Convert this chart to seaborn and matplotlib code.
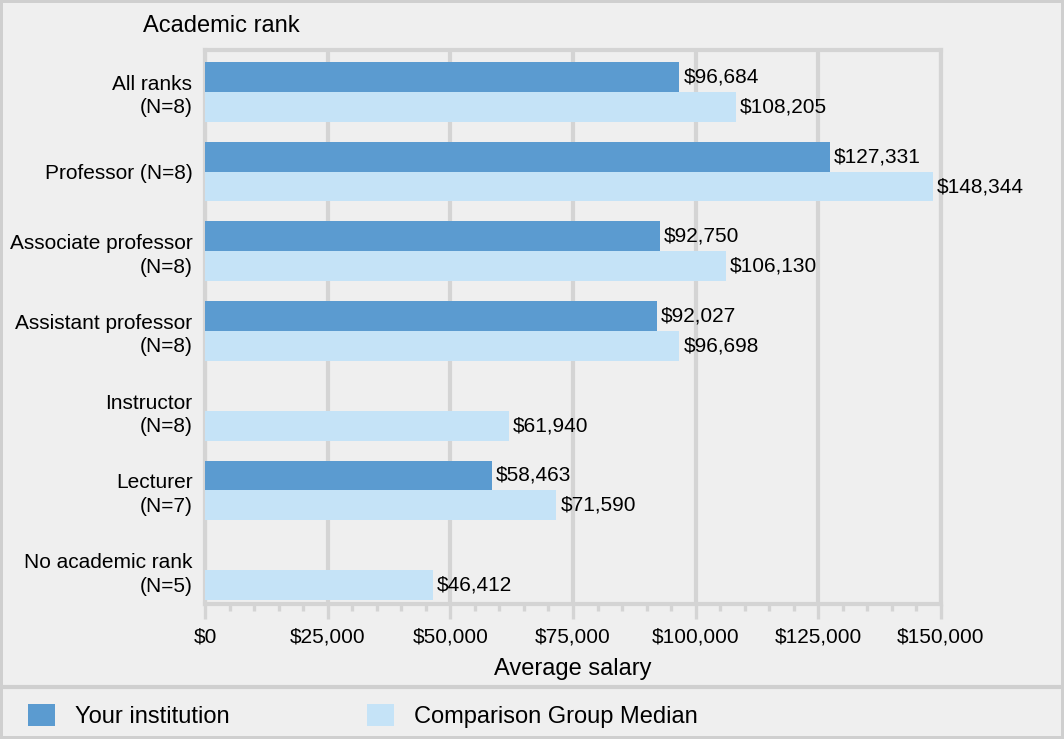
import numpy as np
import pandas as pd
import matplotlib.pyplot as plt
import seaborn as sns
from matplotlib.ticker import MultipleLocator, FuncFormatter
from matplotlib.patches import Patch
from matplotlib.lines import Line2D

ranks = ["All ranks\n(N=8)", "Professor (N=8)", "Associate professor\n(N=8)",
         "Assistant professor\n(N=8)", "Instructor\n(N=8)", "Lecturer\n(N=7)",
         "No academic rank\n(N=5)"]
your_inst = [96684, 127331, 92750, 92027, np.nan, 58463, np.nan]
comparison = [108205, 148344, 106130, 96698, 61940, 71590, 46412]
groups = ["Your institution", "Comparison Group Median"]
colors = ["#5b9bd0", "#c5e3f7"]

df = pd.DataFrame({
    "rank": ranks * 2,
    "salary": your_inst + comparison,
    "group": [groups[0]] * len(ranks) + [groups[1]] * len(ranks),
})

bg = "#efefef"
grid = "#d4d4d4"
sns.set_style("white")
plt.rcParams["font.family"] = ["Liberation Sans", "DejaVu Sans"]
plt.rcParams["text.color"] = "black"

fig = plt.figure(figsize=(10.64, 7.39), dpi=100, facecolor=bg)
fig.patch.set_edgecolor("#cfcfcf")
fig.patch.set_linewidth(3)
ax = fig.add_axes([205 / 1064, 1 - 604 / 739, 736 / 1064, 554 / 739])
ax.set_facecolor(bg)

sns.barplot(data=df, y="rank", x="salary", hue="group", order=ranks,
            hue_order=groups, palette=colors, orient="h", width=0.75,
            saturation=1, dodge=True, legend=False, linewidth=0,
            ax=ax, zorder=3)

for cont in ax.containers:
    labels = ["" if np.isnan(v) else f"${v:,.0f}" for v in cont.datavalues]
    ax.bar_label(cont, labels=labels, padding=3, fontsize=15, color="black")

ax.set_xlim(0, 150000)
ax.set_ylim(6.425, -0.525)
ax.xaxis.set_major_locator(MultipleLocator(25000))
ax.xaxis.set_minor_locator(MultipleLocator(5000))
ax.xaxis.set_major_formatter(FuncFormatter(lambda v, p: f"${v:,.0f}"))
ax.grid(axis="x", color=grid, linewidth=3, zorder=0)
ax.set_axisbelow(True)
for s in ax.spines.values():
    s.set_color(grid)
    s.set_linewidth(3)
ax.tick_params(axis="x", which="both", bottom=True)
ax.tick_params(axis="x", which="major", length=11, width=2.4, color=grid,
               labelsize=15, labelcolor="black", pad=6)
ax.tick_params(axis="x", which="minor", length=5, width=2.4, color=grid)
ax.tick_params(axis="y", length=0, labelsize=15, labelcolor="black", pad=9)
for t in ax.get_yticklabels():
    t.set_linespacing(1.3)

ax.set_xlabel("Average salary", fontsize=17, labelpad=8, color="black")
ax.set_ylabel("")
fig.text(221 / 1064, 1 - 26 / 739, "Academic rank", fontsize=17,
         ha="center", va="center")

# legend strip
fig.add_artist(Line2D([0, 1], [1 - 687 / 739, 1 - 687 / 739],
                      transform=fig.transFigure, color="#cfcfcf", linewidth=3))
handles = [Patch(facecolor=c, edgecolor="none") for c in colors]
fig.legend(handles, groups, loc="center left", ncol=2, frameon=False,
           bbox_to_anchor=(28 / 1064, 1 - 716 / 739), fontsize=17,
           borderaxespad=0, borderpad=0,
           handlelength=1.15, handleheight=1.1, handletextpad=0.85,
           columnspacing=5.8)

fig.savefig("out.png", dpi=100, facecolor=bg)
